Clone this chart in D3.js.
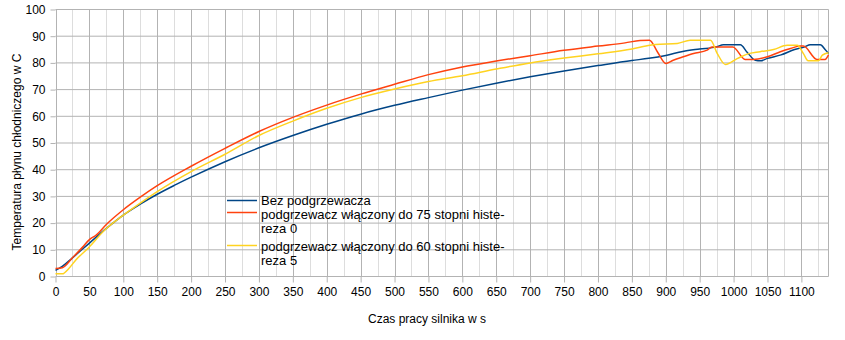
<!DOCTYPE html>
<html><head><meta charset="utf-8">
<script src="https://cdn.jsdelivr.net/npm/d3@7"></script>
<style>body{margin:0;background:#fff}svg{display:block}text{font-family:"Liberation Sans",Arial,sans-serif;fill:#000}</style>
</head><body><svg id="c" width="845" height="340"></svg>
<script>
const xTicks = d3.range(0, 1101, 50);
const xMinorTicks = d3.range(25, 1140, 50);
const yTicks = d3.range(0, 101, 10);

const seriesNames = ["Bez podgrzewacza", "podgrzewacz włączony do 75 stopni histe-|reza 0", "podgrzewacz włączony do 60 stopni histe-|reza 5"];
const seriesColors = ["#004586", "#ff420e", "#ffd320"];

const blueTime = [0, 10, 25, 50, 75, 100, 125, 150, 175, 200, 250, 300, 350, 400, 450, 500, 550, 600, 650, 700, 750, 800, 850, 875, 900, 925, 950, 975, 985, 1010, 1020, 1032, 1040, 1050, 1070, 1090, 1105, 1113, 1128, 1135, 1140];
const blueTemp = [2.3, 3.8, 7, 12.5, 18, 23, 27.1, 30.8, 34.1, 37.2, 43, 48.2, 52.8, 57, 60.8, 64.1, 67, 69.8, 72.4, 74.8, 77, 79, 80.9, 81.7, 82.8, 84.3, 85.2, 86, 86.8, 86.8, 84, 81, 80.8, 81.7, 83, 85, 86, 86.8, 86.8, 85, 83.5];

const redTime = [0, 10, 25, 40, 50, 60, 75, 100, 125, 150, 200, 250, 300, 350, 400, 450, 500, 550, 600, 650, 700, 750, 800, 840, 862, 876, 888, 900, 911, 926, 941, 961, 968, 999, 1017, 1029, 1050, 1069, 1084, 1098, 1103, 1123, 1135, 1140];
const redTemp = [3, 3.3, 7, 11, 13.8, 15.5, 19.5, 25, 29.7, 34, 41.3, 48, 54.3, 59.6, 64.2, 68.3, 72, 75.6, 78.5, 80.7, 82.7, 84.7, 86.3, 87.5, 88.4, 88.5, 84, 79.8, 81, 82.3, 83.5, 84.8, 86, 86, 81.3, 81.3, 82.3, 84.2, 85.4, 86.3, 86.3, 81.3, 81.3, 83];

const yellowTime = [0, 10, 20, 30, 48, 73, 97, 125, 150, 200, 250, 300, 350, 400, 450, 500, 550, 600, 650, 700, 750, 800, 850, 877, 885, 917, 936, 966, 976, 988, 1006, 1020, 1039, 1059, 1079, 1094, 1103, 1110, 1125, 1131, 1140];
const yellowTemp = [1, 1, 3.1, 6.2, 10.6, 17.5, 22.4, 27.5, 31.8, 39.3, 45.8, 52.8, 58.2, 63, 67, 70.2, 73, 75.2, 77.7, 80, 81.8, 83.4, 85.2, 86.6, 86.9, 87.3, 88.5, 88.5, 83.5, 79.4, 81.7, 83.3, 84.2, 85, 86.6, 86.6, 83.5, 80.8, 80.8, 82.9, 83.8];

const xTitle = "Czas pracy silnika w s";
const yTitle = "Temperatura płynu chłodniczego w C";

const svg = d3.select("#c");
const x = d3.scaleLinear().domain([0, 1140]).range([55.5, 828.5]);
const y = d3.scaleLinear().domain([0, 100]).range([276.5, 9.5]);

// grid
const g = svg.append("g");
g.selectAll(".vmin").data(xMinorTicks).join("line")
  .attr("x1", d => Math.round(x(d)) + 0.5).attr("x2", d => Math.round(x(d)) + 0.5)
  .attr("y1", y(100)).attr("y2", y(0)).attr("stroke", "#dddddd");
g.selectAll(".vmaj").data(xTicks).join("line")
  .attr("x1", d => Math.round(x(d)) + 0.5).attr("x2", d => Math.round(x(d)) + 0.5)
  .attr("y1", y(100)).attr("y2", y(0)).attr("stroke", "#b3b3b3");
g.selectAll(".hmaj").data(yTicks).join("line")
  .attr("x1", x(0)).attr("x2", x(1140))
  .attr("y1", d => y(d)).attr("y2", d => y(d)).attr("stroke", "#b3b3b3");
g.append("line").attr("x1", x(1140)).attr("x2", x(1140)).attr("y1", y(100)).attr("y2", y(0)).attr("stroke", "#b3b3b3");

// axes
const xAxis = d3.axisBottom(x).tickValues(xTicks).tickSize(6).tickPadding(5).tickFormat(d3.format("d"));
const xg = svg.append("g").attr("transform", `translate(0,${y(0)})`).call(xAxis);
xg.select(".domain").remove();
xg.selectAll("line").attr("stroke", "#b3b3b3");
xg.selectAll("text").attr("font-size", 12).attr("font-family", "Liberation Sans, Arial, sans-serif").attr("fill", "#000");

const yAxis = d3.axisLeft(y).tickValues(yTicks).tickSize(5).tickPadding(5);
const yg = svg.append("g").attr("transform", `translate(${x(0)},0)`).call(yAxis);
yg.select(".domain").remove();
yg.selectAll("line").attr("stroke", "#b3b3b3");
yg.selectAll("text").attr("font-size", 12).attr("font-family", "Liberation Sans, Arial, sans-serif").attr("fill", "#000");

// series
const series = [
  {t: blueTime, v: blueTemp},
  {t: redTime, v: redTemp},
  {t: yellowTime, v: yellowTemp}
];
const line = d3.line().x(d => x(d[0])).y(d => y(d[1])).curve(d3.curveMonotoneX);
series.forEach((s, i) => {
  svg.append("path").datum(s.t.map((t, k) => [t, s.v[k]]))
    .attr("d", line).attr("fill", "none").attr("stroke", seriesColors[i])
    .attr("stroke-width", 1.5).attr("stroke-linejoin", "round");
});

// titles
svg.append("text").attr("x", 427).attr("y", 323).attr("text-anchor", "middle").attr("font-size", 12).text(xTitle);
svg.append("text").attr("transform", "translate(21,152) rotate(-90)").attr("text-anchor", "middle").attr("font-size", 12).text(yTitle);

// legend
const legTextY = [205, 218.5, 250.5];
const legLineY = [200.5, 212.5, 245.5];
const leg = svg.append("g");
seriesNames.forEach((name, i) => {
  leg.append("line").attr("x1", 227).attr("x2", 257).attr("y1", legLineY[i]).attr("y2", legLineY[i])
    .attr("stroke", seriesColors[i]).attr("stroke-width", 1.5);
  const t = leg.append("text").attr("x", 261).attr("y", legTextY[i]).attr("font-size", 13);
  name.split("|").forEach((part, k) => {
    t.append("tspan").attr("x", 261).attr("dy", k === 0 ? 0 : 14.5).text(part);
  });
});
</script></body></html>
